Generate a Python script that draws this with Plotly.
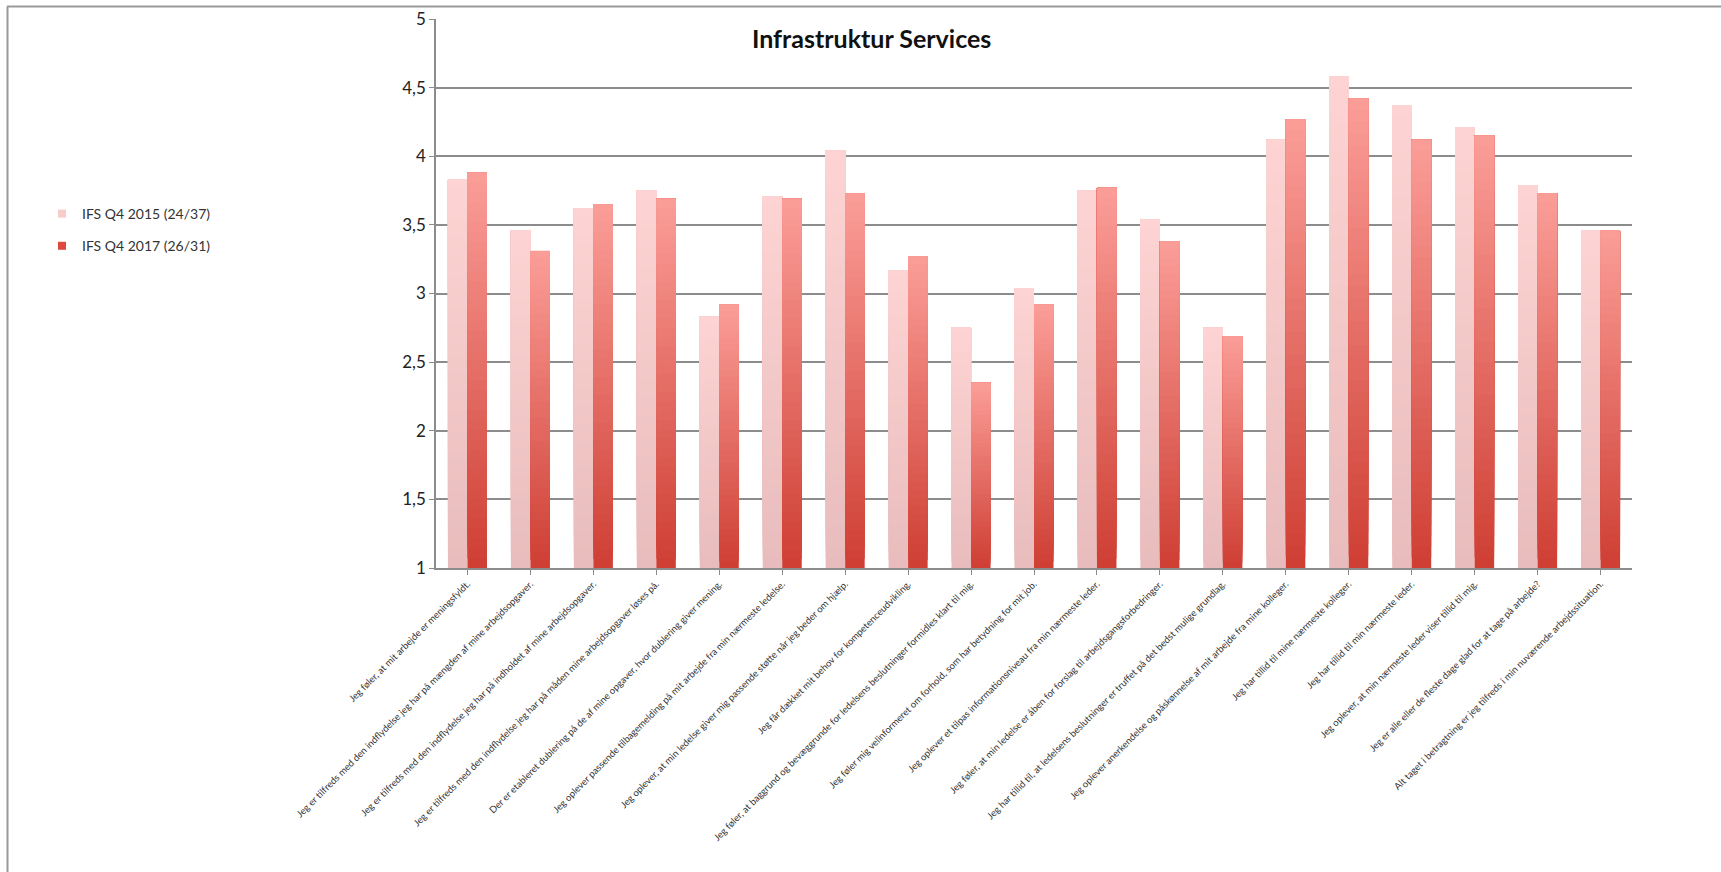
import plotly.graph_objects as go

categories = [
    "Jeg føler, at mit arbejde er meningsfyldt.",
    "Jeg er tilfreds med den indflydelse jeg har på mængden af mine arbejdsopgaver.",
    "Jeg er tilfreds med den indflydelse jeg har på indholdet af mine arbejdsopgaver.",
    "Jeg er tilfreds med den indflydelse jeg har på måden mine arbejdsopgaver løses på.",
    "Der er etableret dublering på de af mine opgaver, hvor dublering giver mening.",
    "Jeg oplever passende tilbagemelding på mit arbejde fra min nærmeste ledelse.",
    "Jeg oplever, at min ledelse giver mig passende støtte når jeg beder om hjælp.",
    "Jeg får dækket mit behov for kompetenceudvikling.",
    "Jeg føler, at baggrund og bevæggrunde for ledelsens beslutninger formidles klart til mig.",
    "Jeg føler mig velinformeret om forhold, som har betydning for mit job.",
    "Jeg oplever et tilpas informationsniveau fra min nærmeste leder.",
    "Jeg føler, at min ledelse er åben for forslag til arbejdsgangsforbedringer.",
    "Jeg har tillid til, at ledelsens beslutninger er truffet på det bedst mulige grundlag.",
    "Jeg oplever anerkendelse og påskønnelse af mit arbejde fra mine kolleger.",
    "Jeg har tillid til mine nærmeste kolleger.",
    "Jeg har tillid til min nærmeste leder.",
    "Jeg oplever, at min nærmeste leder viser tillid til mig.",
    "Jeg er alle eller de fleste dage glad for at tage på arbejde?",
    "Alt taget i betragtning er jeg tilfreds i min nuværende arbejdssituation.",
]

ifs_2015 = [3.83, 3.46, 3.62, 3.75, 2.83, 3.71, 4.04, 3.17, 2.75, 3.04,
            3.75, 3.54, 2.75, 4.12, 4.58, 4.37, 4.21, 3.79, 3.46]
ifs_2017 = [3.88, 3.31, 3.65, 3.69, 2.92, 3.69, 3.73, 3.27, 2.35, 2.92,
            3.77, 3.38, 2.69, 4.27, 4.42, 4.12, 4.15, 3.73, 3.46]

series_names = ["IFS Q4 2015 (24/37)", "IFS Q4 2017 (26/31)"]
y_ticks = [1, 1.5, 2, 2.5, 3, 3.5, 4, 4.5, 5]

# gradient ends (bottom, top) for each series
grad = [((0xE8, 0xBC, 0xBC), (0xFD, 0xD4, 0xD3)),
        ((0xCE, 0x3E, 0x33), (0xFB, 0x9E, 0x98))]
legend_colors = ["#f9cccc", "#e0483f"]

BASE = 1.0
N = 40
BAR_W = 0.31

def mix(c0, c1, t):
    return "rgb(%d,%d,%d)" % tuple(round(a + (b - a) * t) for a, b in zip(c0, c1))

fig = go.Figure()
for s, vals in enumerate([ifs_2015, ifs_2017]):
    c0, c1 = grad[s]
    for k in range(N):
        t = (k + 0.5) / N
        # each layer runs from its start up to the bar top; later layers cover earlier ones
        fig.add_trace(go.Bar(
            x=categories,
            y=[(v - BASE) * (N - k) / N for v in vals],
            base=[BASE + (v - BASE) * k / N for v in vals],
            width=BAR_W,
            offset=-BAR_W if s == 0 else 0,
            marker=dict(color=mix(c0, c1, t), line=dict(width=0)),
            name=series_names[s],
            legendgroup=series_names[s],
            showlegend=False,
            hoverinfo="skip",
        ))
    # legend entry
    fig.add_trace(go.Scatter(
        x=[categories[0]], y=[None], mode="markers",
        marker=dict(color=legend_colors[s], symbol="square", size=8),
        name=series_names[s], legendgroup=series_names[s],
        showlegend=True, hoverinfo="skip",
    ))

W, H = 1721, 872
L, R, T, B = 436, 89, 19, 304
pw = W - L - R
ph = H - T - B

def px_x(x):
    return (x - L) / pw

def px_y(y):
    return (H - B - y) / ph

fig.update_layout(
    width=W, height=H,
    margin=dict(l=L, r=R, t=T, b=B, autoexpand=False),
    template="none",
    paper_bgcolor="white", plot_bgcolor="white",
    barmode="overlay",
    separators=",.",
    font=dict(family="Lato, 'Open Sans', sans-serif", color="#222222"),
    showlegend=True,
    legend=dict(
        x=px_x(42), y=px_y(198), xanchor="left", yanchor="top",
        font=dict(size=14, color="#333333"),
        tracegroupgap=11, itemwidth=30, bgcolor="rgba(0,0,0,0)",
    ),
    xaxis=dict(
        type="category", range=[-0.5, len(categories) - 0.5],
        tickangle=-45, dtick=1,
        tickfont=dict(size=9.5, color="#333333"),
        showline=True, linecolor="#8c8c8c", linewidth=1.5,
        ticks="outside", ticklen=5, tickcolor="#8c8c8c",
        showgrid=False, automargin=False, zeroline=False,
        fixedrange=True,
    ),
    yaxis=dict(
        range=[1, 5], tickvals=y_ticks,
        tickfont=dict(size=17, color="#222222"),
        showline=True, linecolor="#8c8c8c", linewidth=1.5,
        ticks="outside", ticklen=5, tickcolor="#8c8c8c",
        showgrid=True, gridcolor="#8c8c8c", gridwidth=1.5,
        zeroline=False, automargin=False, fixedrange=True,
    ),
    annotations=[dict(
        text="<b>Infrastruktur Services</b>",
        x=px_x(871), y=px_y(38), xref="paper", yref="paper",
        xanchor="center", yanchor="middle", showarrow=False,
        font=dict(size=25, color="#111111", family="Lato, sans-serif"),
    )],
    shapes=[
        dict(type="line", xref="paper", yref="paper",
             x0=px_x(7), x1=px_x(W), y0=px_y(6.5), y1=px_y(6.5),
             line=dict(color="#9a9a9a", width=2)),
        dict(type="line", xref="paper", yref="paper",
             x0=px_x(7.5), x1=px_x(7.5), y0=px_y(6.5), y1=px_y(H),
             line=dict(color="#9a9a9a", width=2)),
    ],
)

fig.write_html("out.html",
               config={"displayModeBar": False},
               post_script="document.body.style.margin='0px';document.body.style.overflow='hidden';")
